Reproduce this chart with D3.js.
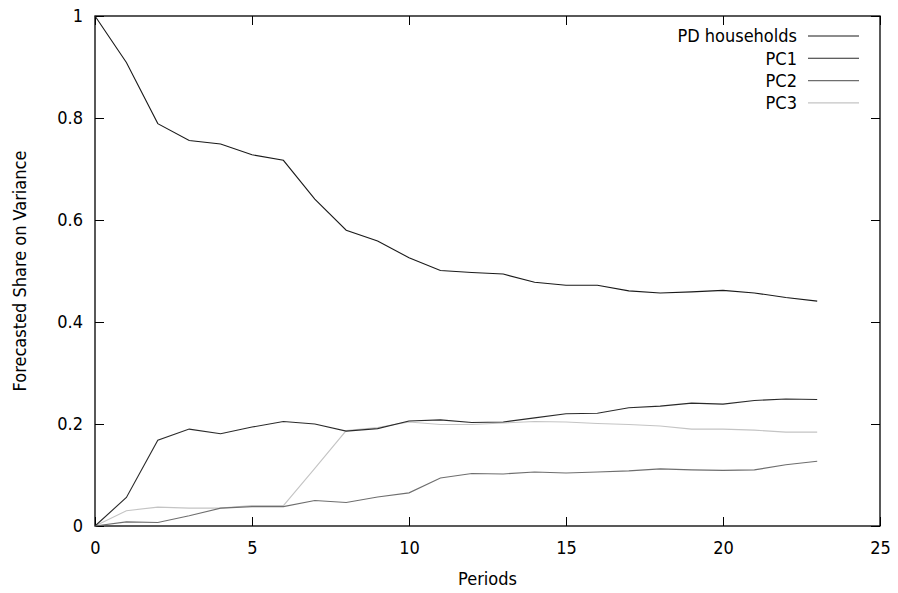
<!DOCTYPE html>
<html>
<head>
<meta charset="utf-8">
<script src="https://cdn.jsdelivr.net/npm/d3@7"></script>
<style>
  body { margin: 0; background: #fff; }
  text { font-family: "DejaVu Sans Condensed", "DejaVu Sans", sans-serif; font-stretch: condensed; font-size: 18px; fill: #000; }
</style>
</head>
<body>
<svg id="chart" width="898" height="593"></svg>
<script>
// forecast horizon
const periods = d3.range(0, 24);

const pdHouseholds = [1.0, 0.909, 0.789, 0.756, 0.749, 0.728, 0.717, 0.641, 0.580, 0.559,
  0.526, 0.501, 0.497, 0.494, 0.478, 0.472, 0.472, 0.461, 0.457, 0.459, 0.462, 0.457, 0.448, 0.441];
const pc1 = [0, 0.056, 0.168, 0.190, 0.181, 0.194, 0.205, 0.200, 0.186, 0.191,
  0.206, 0.208, 0.203, 0.204, 0.212, 0.220, 0.221, 0.232, 0.235, 0.241, 0.239, 0.246, 0.249, 0.248];
const pc2 = [0, 0.008, 0.007, 0.020, 0.035, 0.038, 0.038, 0.050, 0.046, 0.057,
  0.065, 0.094, 0.103, 0.102, 0.106, 0.104, 0.106, 0.108, 0.112, 0.110, 0.109, 0.110, 0.120, 0.127];
const pc3 = [0, 0.030, 0.037, 0.035, 0.035, 0.040, 0.040, 0.113, 0.187, 0.193,
  0.204, 0.199, 0.199, 0.202, 0.205, 0.204, 0.201, 0.199, 0.196, 0.190, 0.190, 0.188, 0.184, 0.184];

const seriesNames = ["PD households", "PC1", "PC2", "PC3"];
const seriesColors = ["#1a1a1a", "#2a2a2a", "#6e6e6e", "#c4c4c4"];
const xTicks = [0, 5, 10, 15, 20, 25];
const yTicks = [0, 0.2, 0.4, 0.6, 0.8, 1];

const series = [pdHouseholds, pc1, pc2, pc3].map((vals, i) => ({
  name: seriesNames[i], color: seriesColors[i], values: vals
}));

const margin = {top: 16, right: 18, bottom: 67, left: 95};
const width = 898, height = 593;
const svg = d3.select("#chart");

const x = d3.scaleLinear().domain([0, 25]).range([margin.left, width - margin.right]);
const y = d3.scaleLinear().domain([0, 1]).range([height - margin.bottom, margin.top]);

// ticks on all four sides, pointing inward (gnuplot style)
const tickLen = 9;
svg.append("g").attr("transform", `translate(0,${y(0)})`)
  .call(d3.axisBottom(x).tickValues(xTicks).tickSize(-tickLen).tickPadding(tickLen + 6).tickFormat(d3.format("d")))
  .call(g => g.select(".domain").remove());
svg.append("g").attr("transform", `translate(0,${y(1)})`)
  .call(d3.axisTop(x).tickValues(xTicks).tickSize(-tickLen).tickFormat(""))
  .call(g => g.select(".domain").remove());
svg.append("g").attr("transform", `translate(${x(0)},0)`)
  .call(d3.axisLeft(y).tickValues(yTicks).tickSize(-tickLen).tickPadding(tickLen + 3).tickFormat(d => d3.format("")(+d.toFixed(1))))
  .call(g => g.select(".domain").remove());
svg.append("g").attr("transform", `translate(${x(25)},0)`)
  .call(d3.axisRight(y).tickValues(yTicks).tickSize(-tickLen).tickFormat(""))
  .call(g => g.select(".domain").remove());

svg.selectAll(".tick line").attr("stroke", "#000").attr("stroke-width", 1);
svg.selectAll(".tick text").style("font-size", null).attr("font-family", null).attr("font-size", null);
svg.selectAll("g").attr("font-family", null).attr("font-size", null);

svg.append("rect")
  .attr("x", x(0)).attr("y", y(1))
  .attr("width", x(25) - x(0)).attr("height", y(0) - y(1))
  .attr("fill", "none").attr("stroke", "#000").attr("stroke-width", 1.3);

const line = d3.line().x((d, i) => x(periods[i])).y(d => y(d));

svg.selectAll(".series")
  .data(series.slice().reverse())
  .enter()
  .append("path")
  .attr("class", "series")
  .attr("d", d => line(d.values))
  .attr("fill", "none")
  .attr("stroke", d => d.color)
  .attr("stroke-width", 1.1);

// legend, top right
const legend = svg.append("g");
series.forEach((s, i) => {
  const ly = 36 + i * 22.3;
  legend.append("text")
    .attr("x", 797).attr("y", ly).attr("dy", "0.35em")
    .attr("text-anchor", "end")
    .text(s.name);
  legend.append("line")
    .attr("x1", 808).attr("x2", 859)
    .attr("y1", ly).attr("y2", ly)
    .attr("stroke", s.color).attr("stroke-width", 1.1);
});

svg.append("text")
  .attr("x", (x(0) + x(25)) / 2).attr("y", 579).attr("dy", "0.35em")
  .attr("text-anchor", "middle")
  .text("Periods");

svg.append("text")
  .attr("transform", `translate(20,${(y(0) + y(1)) / 2}) rotate(-90)`)
  .attr("dy", "0.35em")
  .attr("text-anchor", "middle")
  .text("Forecasted Share on Variance");
</script>
</body>
</html>
